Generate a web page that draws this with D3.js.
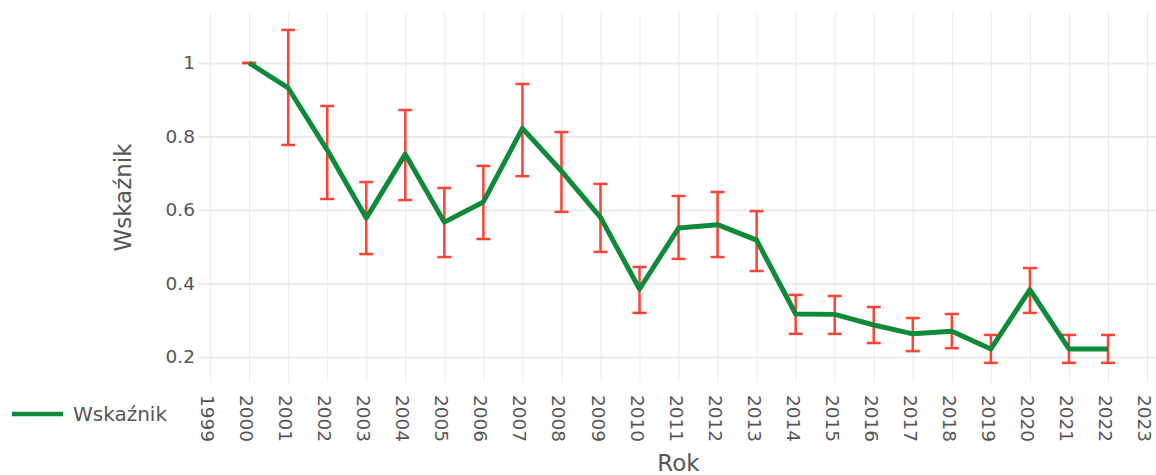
<!DOCTYPE html>
<html>
<head>
<meta charset="utf-8">
<script src="https://cdn.jsdelivr.net/npm/d3@7"></script>
<style>
  body { margin: 0; background: #fff; }
  svg text { font-family: "DejaVu Sans", Verdana, sans-serif; fill: #555; }
</style>
</head>
<body>
<div id="chart"></div>
<script>
// values
const years = [2000, 2001, 2002, 2003, 2004, 2005, 2006, 2007, 2008, 2009, 2010, 2011,
               2012, 2013, 2014, 2015, 2016, 2017, 2018, 2019, 2020, 2021, 2022];
const values = [1.0, 0.932, 0.763, 0.578, 0.752, 0.567, 0.622, 0.822, 0.706, 0.58, 0.385, 0.551,
                0.56, 0.518, 0.317, 0.316, 0.287, 0.263, 0.27, 0.222, 0.383, 0.222, 0.222];
const upper = [1.0, 1.09, 0.883, 0.676, 0.872, 0.66, 0.72, 0.943, 0.812, 0.671, 0.445, 0.638,
               0.649, 0.597, 0.369, 0.366, 0.336, 0.306, 0.317, 0.26, 0.442, 0.26, 0.26];
const lower = [1.0, 0.777, 0.63, 0.48, 0.627, 0.472, 0.521, 0.692, 0.595, 0.486, 0.32, 0.467,
               0.472, 0.434, 0.263, 0.263, 0.238, 0.216, 0.224, 0.184, 0.32, 0.184, 0.184];
const xTicks = d3.range(1999, 2024);
const yTicks = [0.2, 0.4, 0.6, 0.8, 1];

const W = 1156, H = 475;
const margin = { top: 13, right: 0, bottom: 93, left: 198 };
const width = W - margin.left - margin.right,
      height = H - margin.top - margin.bottom;

const svg = d3.select("#chart").append("svg")
    .attr("width", W)
    .attr("height", H);

const g = svg.append("g")
    .attr("transform", `translate(${margin.left},${margin.top})`);

const x = d3.scaleLinear().domain([1998.69, 2023.23]).range([0, width]);
const y = d3.scaleLinear().domain([0.132, 1.136]).range([height, 0]);

// grid
g.append("g")
    .attr("transform", `translate(0,${height})`)
    .call(d3.axisBottom(x).tickValues(xTicks).tickSize(-height).tickFormat(""))
    .call(a => a.select(".domain").remove())
    .call(a => a.selectAll("line").attr("stroke", "#ebebeb").attr("stroke-width", 1));

g.append("g")
    .call(d3.axisLeft(y).tickValues(yTicks).tickSize(-width).tickFormat(""))
    .call(a => a.select(".domain").remove())
    .call(a => a.selectAll("line").attr("stroke", "#ebebeb").attr("stroke-width", 2));

// tick labels
g.append("g")
    .call(d3.axisLeft(y).tickValues(yTicks).tickSize(0).tickPadding(3).tickFormat(d3.format("")))
    .call(a => a.select(".domain").remove())
    .call(a => a.selectAll("text").style("font-size", "18.5px").attr("fill", "#555"));

g.append("g")
    .attr("transform", `translate(0,${height})`)
    .call(d3.axisBottom(x).tickValues(xTicks).tickSize(0).tickFormat(d3.format("d")))
    .call(a => a.select(".domain").remove())
    .call(a => a.selectAll("text")
        .style("font-size", "18.5px")
        .attr("fill", "#555")
        .attr("text-anchor", "start")
        .attr("dy", "0.35em")
        .attr("transform", "translate(0,13) rotate(90)"));

// error bars
const bars = g.append("g").attr("stroke", "#ff4136").attr("stroke-width", 2.5).attr("fill", "none");
const cap = 7;
years.forEach((yr, i) => {
  const cx = x(yr);
  if (upper[i] !== lower[i]) {
    bars.append("line").attr("x1", cx).attr("x2", cx).attr("y1", y(upper[i])).attr("y2", y(lower[i]));
  }
  bars.append("line").attr("x1", cx - cap).attr("x2", cx + cap).attr("y1", y(upper[i])).attr("y2", y(upper[i]));
  bars.append("line").attr("x1", cx - cap).attr("x2", cx + cap).attr("y1", y(lower[i])).attr("y2", y(lower[i]));
});

// line
g.append("path")
    .datum(years.map((yr, i) => ({ yr, v: values[i] })))
    .attr("fill", "none")
    .attr("stroke", "#0e8a3a")
    .attr("stroke-width", 5)
    .attr("stroke-linejoin", "round")
    .attr("d", d3.line().x(d => x(d.yr)).y(d => y(d.v)));

// axis titles
svg.append("text")
    .attr("transform", `translate(131,${margin.top + height / 2}) rotate(-90)`)
    .attr("text-anchor", "middle")
    .style("font-size", "23px")
    .attr("fill", "#555")
    .text("Wskaźnik");

svg.append("text")
    .attr("x", 210 + (1147 - 210) / 2)
    .attr("y", 471)
    .attr("text-anchor", "middle")
    .style("font-size", "23px")
    .attr("fill", "#555")
    .text("Rok");

// legend
const leg = svg.append("g").attr("transform", "translate(12,414)");
leg.append("line").attr("x1", 0).attr("x2", 51).attr("y1", 0).attr("y2", 0)
    .attr("stroke", "#0e8a3a").attr("stroke-width", 4.5);
leg.append("text").attr("x", 61).attr("dy", "0.35em")
    .style("font-size", "20px").attr("fill", "#555").text("Wskaźnik");
</script>
</body>
</html>
